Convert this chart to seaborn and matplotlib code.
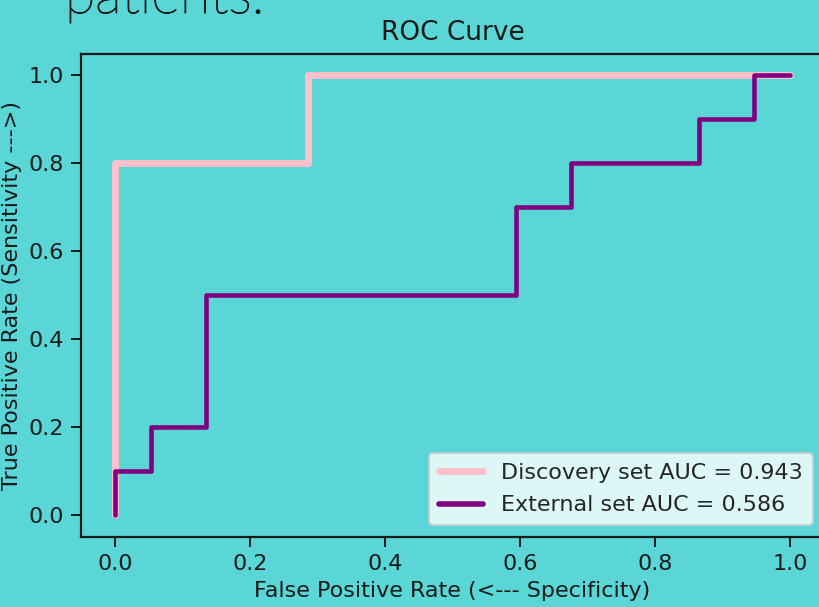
import numpy as np
import pandas as pd
import matplotlib
matplotlib.use("Agg")
import matplotlib.pyplot as plt
import matplotlib.patheffects as pe
import seaborn as sns

# ROC vertices
disc_fpr = [0.0, 0.0, 0.0, 2/7, 2/7, 1.0]
disc_tpr = [0.0, 0.1, 0.8, 0.8, 1.0, 1.0]
ext_fpr = [0.0, 0.0, 2/37, 2/37, 5/37, 5/37, 22/37, 22/37, 25/37, 25/37, 32/37, 32/37, 35/37, 35/37, 1.0]
ext_tpr = [0.0, 0.1, 0.1, 0.2, 0.2, 0.5, 0.5, 0.7, 0.7, 0.8, 0.8, 0.9, 0.9, 1.0, 1.0]
labels = ["Discovery set AUC = 0.943", "External set AUC = 0.586"]
x_ticks = [0.0, 0.2, 0.4, 0.6, 0.8, 1.0]
y_ticks = [0.0, 0.2, 0.4, 0.6, 0.8, 1.0]

BG = "#5AD6D6"
sns.set_style("ticks")
plt.rcParams["font.family"] = ["DejaVu Sans"]

fig = plt.figure(figsize=(8.19, 6.07), dpi=100, facecolor=BG)
ax = fig.add_axes([81/819, 70/607, (824-81)/819, (537-54)/607])
ax.set_facecolor(BG)

df1 = pd.DataFrame({"fpr": disc_fpr, "tpr": disc_tpr})
df2 = pd.DataFrame({"fpr": ext_fpr, "tpr": ext_tpr})
sns.lineplot(data=df1, x="fpr", y="tpr", ax=ax, sort=False, estimator=None,
             color="pink", linewidth=5.0, label=labels[0])
sns.lineplot(data=df2, x="fpr", y="tpr", ax=ax, sort=False, estimator=None,
             color="purple", linewidth=3.3, label=labels[1])

ax.set_xlim(-0.05, 1.05)
ax.set_ylim(-0.05, 1.048)
ax.set_xticks(x_ticks)
ax.set_yticks(y_ticks)
ax.set_xticklabels([f"{v:.1f}" for v in x_ticks])
ax.set_yticklabels([f"{v:.1f}" for v in y_ticks])
fs = 16
ax.tick_params(labelsize=fs, length=7, width=1.4, colors="#1a1a1a", pad=5)
for s in ax.spines.values():
    s.set_linewidth(1.6)
    s.set_color("#1a1a1a")
ax.set_xlabel("False Positive Rate (<--- Specificity)", fontsize=fs, color="#1a1a1a", labelpad=5)
ax.set_ylabel("True Positive Rate (Sensitivity --->)", fontsize=fs, color="#1a1a1a", labelpad=5)
ax.set_title("ROC Curve", fontsize=19, color="#1a1a1a", pad=10)

leg = ax.legend(loc="lower right", fontsize=fs, frameon=True, framealpha=0.8,
                handlelength=2.0, borderpad=0.45, labelspacing=0.55,
                bbox_to_anchor=(0.9995, 0.001))
leg.get_frame().set_linewidth(1.5)
leg.get_frame().set_edgecolor("#cccccc")
for line in leg.get_lines():
    line.set_linewidth(5.0 if line.get_color() == "pink" else 4.0)

fig.text(65/819, 1 - 13/607, "patients.", fontsize=40, family="Lato",
         fontweight="light", color="#1a1a1a", va="baseline", ha="left",
         path_effects=[pe.withStroke(linewidth=0.8, foreground="#1a1a1a")])

fig.savefig("out.png", dpi=100, facecolor=BG)
